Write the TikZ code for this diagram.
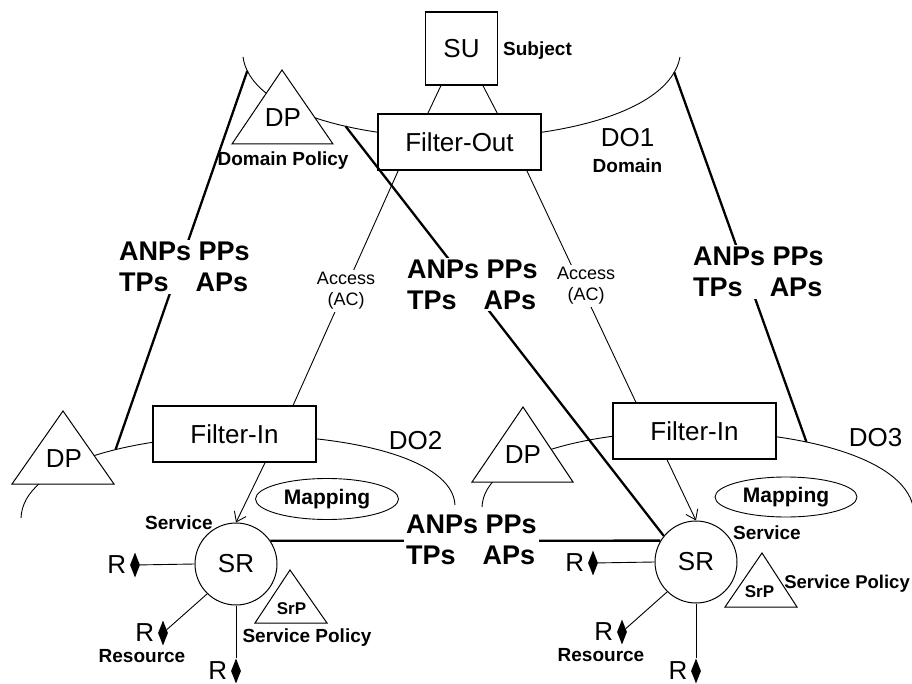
\documentclass[tikz,border=0pt]{standalone}
\usepackage{fontspec}
\setmainfont{Liberation Sans}
\usetikzlibrary{shapes.geometric,arrows.meta}

\begin{document}
\begin{tikzpicture}[
    x=1pt, y=-1pt,
    bigtxt/.style={font=\fontsize{26}{30}\selectfont},
    tagtxt/.style={font=\fontsize{19}{22}\selectfont\bfseries, inner sep=1pt},
    ppstxt/.style={font=\fontsize{27}{31}\selectfont\bfseries, align=left, fill=white, inner sep=2pt},
    accesstxt/.style={font=\fontsize{18}{21}\selectfont, align=center, fill=white, inner sep=2pt},
    subox/.style={draw, fill=white, line width=1.1pt, bigtxt, minimum width=72pt, minimum height=73pt},
    filterbox/.style={draw, fill=white, line width=1.1pt, bigtxt, minimum width=163pt, minimum height=56pt},
    srnode/.style={circle, draw, fill=white, line width=1pt, bigtxt, minimum size=82pt, inner sep=0pt},
    mapnode/.style={ellipse, draw, fill=white, line width=0.9pt, font=\fontsize{21}{24}\selectfont\bfseries,
                    minimum width=143pt, minimum height=41pt, inner sep=0pt},
    policytri/.style={draw, fill=white, line width=1pt},
    rdiamond/.style={diamond, fill=black, inner sep=0pt, minimum width=10pt, minimum height=25pt,
                     label={[bigtxt]left:R}},
    domainarc/.style={line width=0.9pt},
    thinline/.style={line width=0.9pt},
    ppsline/.style={line width=2.3pt},
    arrow/.style={-{Straight Barb[length=9pt,width=13pt]}, line width=0.9pt}
]
    \useasboundingbox (0,0) rectangle (912,684);
    \clip (0,0) rectangle (912,684);

    \draw[domainarc] (243,57) .. controls (258,165) and (660,165) .. (680,57)
        coordinate[pos=0.045] (do1L) coordinate[pos=0.31] (do1M) coordinate[pos=0.95] (do1R);
    \draw[domainarc] (21,518) .. controls (25,410) and (450,410) .. (455,505)
        coordinate[pos=0.3] (do2L);
    \draw[domainarc] (482,507) .. controls (486,405) and (905,405) .. (914,512)
        coordinate[pos=0.68] (do3R);

    \draw[policytri] (282,70) -- (333,144) -- (232,144) -- cycle;
    \draw[policytri] (63,411) -- (114,484) -- (12,484) -- cycle;
    \draw[policytri] (523,407) -- (573,482) -- (472,482) -- cycle;
    \node[bigtxt] (dpTop) at (283,118) {DP};
    \node[bigtxt] (dpLeft) at (64,459) {DP};
    \node[bigtxt] (dpMid) at (523,455) {DP};
    \node[tagtxt] (dpTopTag) at (283,161) {Domain Policy};

    \node[subox] (suBox) at (461.5,48.5) {SU};
    \node[filterbox] (filterOut) at (459.5,142) {Filter-Out};
    \node[filterbox] (filterIn1) at (234.5,434) {Filter-In};
    \node[filterbox] (filterIn2) at (694.5,431) {Filter-In};
    \node[srnode] (sr1) at (236,564) {SR};
    \node[srnode] (sr2) at (696,562) {SR};
    \node[mapnode] (map1) at (327,499) {Mapping};
    \node[mapnode, minimum width=142pt, minimum height=40pt] (map2) at (786,497) {Mapping};

    \draw[thinline] (suBox.241) -- (filterOut.138);
    \draw[thinline] (suBox.300) -- (filterOut.37);
    \draw[thinline] (filterOut.205) -- (filterIn1.26);
    \draw[thinline] (filterOut.337) -- (filterIn2.154);
    \draw[arrow] (filterIn1.317) -- (sr1.north);
    \draw[arrow] (filterIn2.226) -- (sr2.north);

    \draw[ppsline] (do1L) -- (do2L);
    \draw[ppsline] (do1R) -- (do3R);
    \draw[ppsline] (do1M) -- (sr2.141);
    \draw[ppsline] (sr1.34) -- (sr2.149);

    \node[ppstxt] (ppsLeft) at (184.5,267) {ANPs PPs\\TPs\phantom{N} APs};
    \node[ppstxt] (ppsRight) at (758.5,272) {ANPs PPs\\TPs\phantom{N} APs};
    \node[ppstxt] (ppsCenter) at (472.5,284.5) {ANPs PPs\\TPs\phantom{N} APs};
    \node[ppstxt] (ppsLow) at (471.5,540) {ANPs PPs\\TPs\phantom{N} APs};
    \node[accesstxt] (accLeft) at (346,291) {Access\\(AC)};
    \node[accesstxt] (accRight) at (586,286) {Access\\(AC)};

    \node[rdiamond] (rA1) at (135,565) {};
    \node[rdiamond] (rB1) at (163,633) {};
    \node[rdiamond] (rC1) at (236,671) {};
    \draw[thinline] (sr1.west) -- (rA1);
    \draw[thinline] (sr1.226) -- (rB1);
    \draw[thinline] (sr1.south) -- (rC1);
    \node[rdiamond] (rA2) at (593,563) {};
    \node[rdiamond] (rB2) at (622,632) {};
    \node[rdiamond] (rC2) at (696,671) {};
    \draw[thinline] (sr2.west) -- (rA2);
    \draw[thinline] (sr2.226) -- (rB2);
    \draw[thinline] (sr2.south) -- (rC2);

    \draw[policytri] (290,570) -- (327,623) -- (255,623) -- cycle;
    \draw[policytri] (762,553) -- (797,607) -- (725,607) -- cycle;
    \node[font=\fontsize{17}{20}\selectfont\bfseries] (srp1) at (291.5,608.5) {SrP};
    \node[font=\fontsize{17}{20}\selectfont\bfseries] (srp2) at (759.5,591.5) {SrP};

    \node[tagtxt, anchor=west] (subjTag) at (502,51) {Subject};
    \node[bigtxt] (do1Lbl) at (627.5,137.5) {DO1};
    \node[tagtxt] (do1Tag) at (627.5,166) {Domain};
    \node[bigtxt] (do2Lbl) at (415.5,441) {DO2};
    \node[bigtxt] (do3Lbl) at (875.5,437.5) {DO3};
    \node[tagtxt] (svc1Tag) at (179,523) {Service};
    \node[tagtxt] (svc2Tag) at (767,532.5) {Service};
    \node[tagtxt] (res1Tag) at (142,656.5) {Resource};
    \node[tagtxt] (res2Tag) at (601,655) {Resource};
    \node[tagtxt] (pol1Tag) at (307,638) {Service Policy};
    \node[tagtxt, font=\fontsize{18.5}{22}\selectfont\bfseries, anchor=east] (pol2Tag) at (911,584) {Service Policy};
\end{tikzpicture}
\end{document}
